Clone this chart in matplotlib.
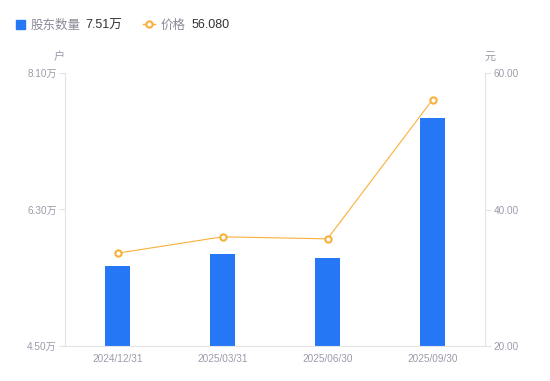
import matplotlib
matplotlib.use("Agg")
import matplotlib.pyplot as plt
from matplotlib.lines import Line2D
from matplotlib.patches import Rectangle

plt.rcParams['font.family'] = ['Liberation Sans', 'Noto Sans CJK SC', 'DejaVu Sans']

# data
dates = ["2024/12/31", "2025/03/31", "2025/06/30", "2025/09/30"]
holders = [5.56, 5.71, 5.66, 7.51]      # 万户
price = [33.6, 36.0, 35.7, 56.08]       # 元
left_ticks = [4.50, 6.30, 8.10]
right_ticks = [20.00, 40.00, 60.00]
legend_names = ["股东数量", "价格"]
legend_values = ["7.51万", "56.080"]

bar_color = "#2577f6"
line_color = "#f7b03a"
axis_color = "#e3e3e8"
text_color = "#9b9bab"
W, H = 550, 381

fig = plt.figure(figsize=(5.5, 3.81), dpi=100)
ax = fig.add_axes([65 / W, 35 / H, 420 / W, 273 / H])
x = list(range(len(dates)))
ax.bar(x, holders, width=0.24, color=bar_color, zorder=2)
ax.set_xlim(-0.5, len(dates) - 0.5)
ax.set_ylim(left_ticks[0], left_ticks[-1])
ax.set_yticks(left_ticks)
ax.set_yticklabels([f"{v:.2f}万" for v in left_ticks])
ax.set_xticks(x)
ax.set_xticklabels(dates)

ax2 = ax.twinx()
ax2.plot(x, price, color=line_color, linewidth=0.8, marker="o", markersize=4.5,
         markerfacecolor="white", markeredgecolor=line_color, markeredgewidth=1.5, zorder=3)
ax2.set_ylim(right_ticks[0], right_ticks[-1])
ax2.set_yticks(right_ticks)
ax2.set_yticklabels([f"{v:.2f}" for v in right_ticks])

for a in (ax, ax2):
    for s in a.spines.values():
        s.set_visible(False)
    a.tick_params(colors=text_color, labelsize=7.2, length=4, width=0.8, color=axis_color, pad=2)
ax.spines['left'].set_visible(True)
ax.spines['bottom'].set_visible(True)
ax2.spines['right'].set_visible(True)
ax.spines['left'].set_color(axis_color)
ax.spines['bottom'].set_color(axis_color)
ax2.spines['right'].set_color(axis_color)
ax.tick_params(axis='x', length=0, pad=6)

fig.text(59 / W, 1 - 57 / H, "户", color=text_color, fontsize=8, ha='center', va='center')
fig.text(490 / W, 1 - 57 / H, "元", color=text_color, fontsize=8, ha='center', va='center')

# legend drawn by hand: gray name, dark value
ly = 1 - 24 / H
ty = 1 - 25.5 / H
fig.patches.append(Rectangle((16 / W, 1 - 28.5 / H), 8.5 / W, 8.5 / H, color=bar_color,
                             transform=fig.transFigure, figure=fig))
fig.text(31 / W, ty, legend_names[0], color="#8a8a98", fontsize=9, va='center')
fig.text(85 / W, ty, legend_values[0], color="#333333", fontsize=9, va='center')
fig.lines.append(Line2D([143 / W, 155 / W], [ly, ly], color=line_color, linewidth=1,
                        transform=fig.transFigure, figure=fig))
fig.lines.append(Line2D([149 / W], [ly], marker='o', markersize=4.5, color=line_color,
                        markerfacecolor='white', markeredgewidth=1.5,
                        transform=fig.transFigure, figure=fig))
fig.text(161 / W, ty, legend_names[1], color="#8a8a98", fontsize=9, va='center')
fig.text(192 / W, ty, legend_values[1], color="#333333", fontsize=9, va='center')

fig.savefig("out.png", dpi=100)
